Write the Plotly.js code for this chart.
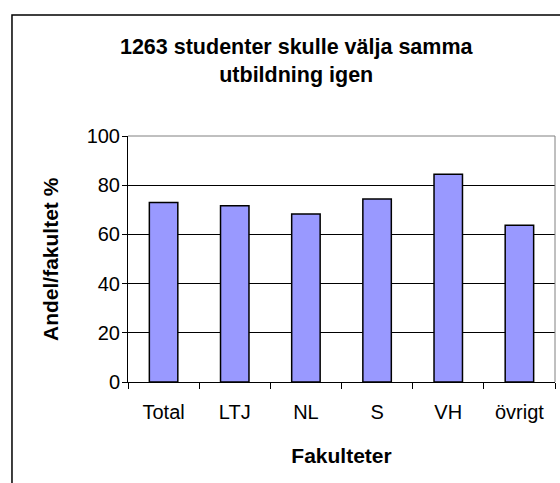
<!DOCTYPE html>
<html><head><meta charset="utf-8">
<script src="https://cdn.plot.ly/plotly-3.0.1.min.js"></script>
<style>html,body{margin:0;padding:0;background:#fff}#c{width:560px;height:483px}</style>
</head><body><div id="c"></div>
<script>
const categories = ["Total", "LTJ", "NL", "S", "VH", "övrigt"];
const values = [73.0, 71.6, 68.3, 74.4, 84.5, 63.7];
const yTicks = [0, 20, 40, 60, 80, 100];

const F = "Liberation Sans, Arial, sans-serif";
const trace = {
  type: "bar", x: categories, y: values, width: 0.4,
  marker: {color: "#9999FF", line: {color: "#000", width: 1.5}},
  hoverinfo: "skip"
};
const layout = {
  width: 560, height: 483,
  margin: {l: 128, r: 5, t: 136, b: 101},
  paper_bgcolor: "#fff", plot_bgcolor: "#fff",
  showlegend: false,
  title: {text: "<b>1263 studenter skulle välja samma<br>utbildning igen</b>",
          x: 0.529, xref: "container", xanchor: "center",
          y: 0.889, yref: "container", yanchor: "middle",
          font: {family: F, size: 21.5, color: "#000"}},
  xaxis: {
    type: "category", tickson: "boundaries", ticks: "outside", ticklen: 6,
    tickcolor: "#000", showline: true, linecolor: "#000", linewidth: 1,
    tickfont: {family: F, size: 20, color: "#000"}, ticklabelstandoff: 12,
    title: {text: "<b>Fakulteter</b>", font: {family: F, size: 21, color: "#000"}, standoff: 26},
    showgrid: false, fixedrange: true
  },
  yaxis: {
    range: [0, 100], tickvals: yTicks, ticks: "outside", ticklen: 5, tickcolor: "#000",
    showline: true, linecolor: "#000", linewidth: 1,
    gridcolor: "#000", gridwidth: 1, zeroline: false,
    tickfont: {family: F, size: 20, color: "#000"}, ticklabelstandoff: -2,
    fixedrange: true
  },
  annotations: [
    {text: "<b>Andel/fakultet %</b>", xref: "paper", yref: "paper", x: -0.1827, y: 0.5,
     xanchor: "center", yanchor: "middle", textangle: -90, showarrow: false,
     font: {family: F, size: 21, color: "#000"}}
  ],
  shapes: [
    {type: "line", xref: "paper", yref: "paper", x0: 0, x1: 1, y0: 1, y1: 1, line: {color: "#808080", width: 1}, layer: "above"},
    {type: "line", xref: "paper", yref: "paper", x0: 1, x1: 1, y0: 0, y1: 1, line: {color: "#808080", width: 1}, layer: "above"},
    {type: "rect", xref: "paper", yref: "paper", x0: -0.2717, x1: 1.2, y0: -0.45, y1: 1.4919, line: {color: "#000", width: 1.5}, fillcolor: "rgba(0,0,0,0)", layer: "above"}
  ]
};
Plotly.newPlot("c", [trace], layout, {displayModeBar: false, staticPlot: true});
</script></body></html>
